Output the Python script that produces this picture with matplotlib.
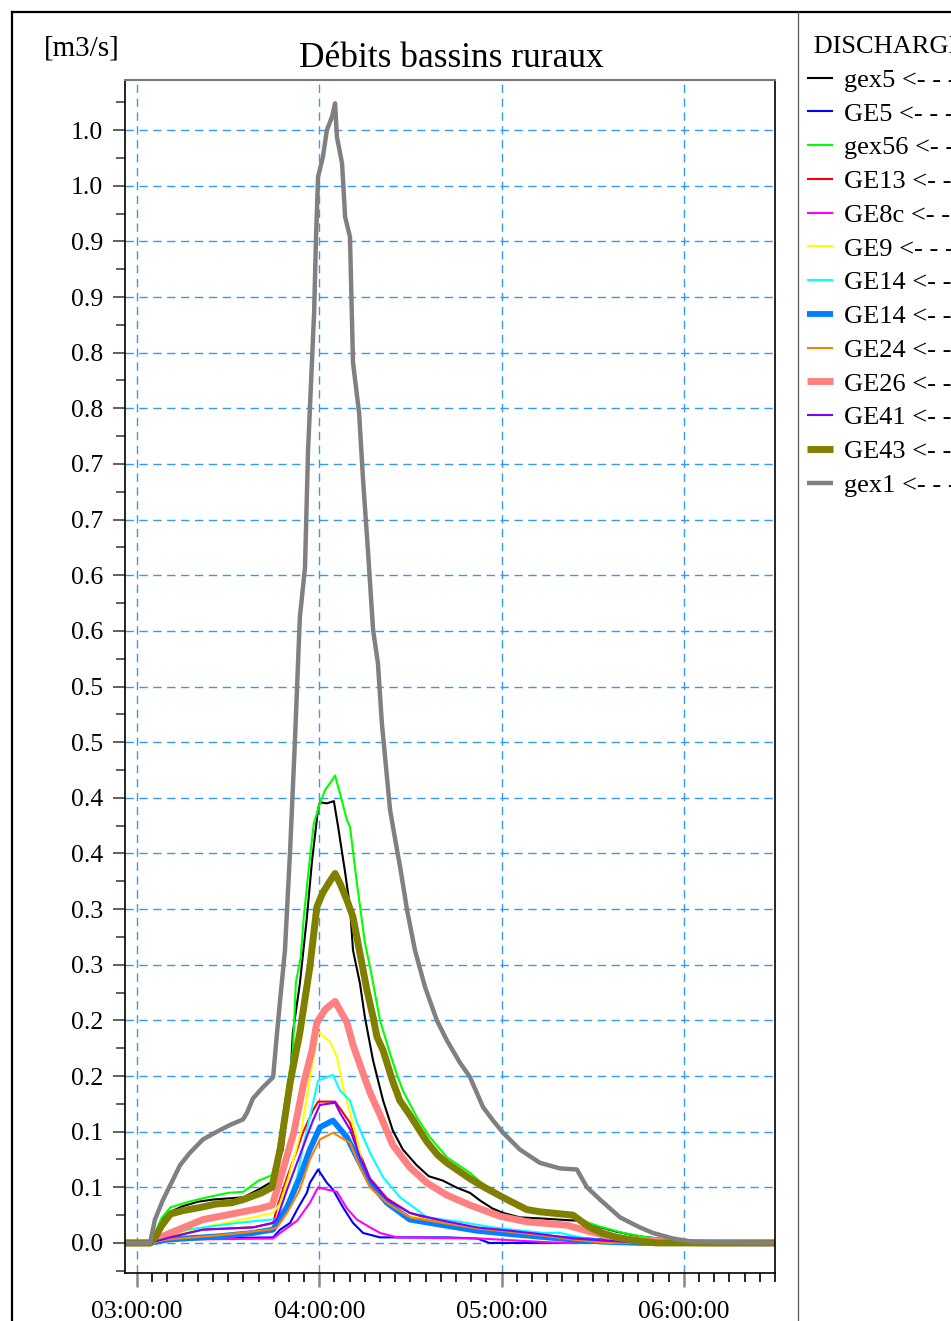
import datetime as dt
import matplotlib
matplotlib.use("Agg")
import matplotlib.pyplot as plt
import matplotlib.dates as mdates
from matplotlib.lines import Line2D

plt.rcParams["font.family"] = ["Liberation Serif", "DejaVu Serif"]

# temps en minutes apres 03:00, debits en m3/s
t_gex5 = [-4, 4.3, 5.5, 8, 11, 15, 20, 25, 30, 35, 40, 44.4, 48, 50.4, 51.3, 53.6, 55.9, 57.6, 59.6, 60.2,
          62.5, 64.8, 66.2, 68.5, 70.1, 71.1, 73.4, 75, 77.7, 81, 84.2, 87.5, 92, 96, 100.7, 105, 109.6, 113,
          117, 120.5, 126, 133, 144.8, 150, 158, 165, 175, 185, 210]
q_gex5 = [0, 0, 0.005, 0.02, 0.028, 0.033, 0.037, 0.039, 0.040, 0.041, 0.048, 0.055, 0.084, 0.144, 0.189,
          0.233, 0.292, 0.343, 0.390, 0.396, 0.395, 0.397, 0.374, 0.333, 0.302, 0.263, 0.233, 0.203, 0.164,
          0.128, 0.101, 0.084, 0.070, 0.060, 0.056, 0.050, 0.045, 0.038, 0.031, 0.027, 0.023, 0.022, 0.020,
          0.016, 0.010, 0.006, 0.003, 0.001, 0]

t_ge5 = [-4, 4.3, 6.6, 14.2, 44.8, 47.1, 50.4, 52.7, 55.9, 56.9, 59.6, 62.5, 64.5, 67.8, 71.1, 74.4, 80, 102,
         112, 116, 210]
q_ge5 = [0, 0, 0.003, 0.004, 0.005, 0.012, 0.018, 0.030, 0.045, 0.054, 0.066, 0.054, 0.048, 0.032, 0.018,
         0.009, 0.005, 0.005, 0.004, 0, 0]

t_gex56 = [-4, 4.3, 5.5, 8, 11, 17, 23, 30, 35, 40, 44.5, 46, 48, 49.7, 51.3, 52.3, 53.9, 54.9, 56.6, 58.2,
           60.2, 61.9, 63.5, 65.2, 66.8, 69.1, 70.1, 72.4, 75, 76.7, 80, 83.3, 85.6, 87.5, 92.1, 96.4, 102,
           109.6, 117.2, 122.8, 130.3, 142.5, 146.8, 152, 160, 168, 180, 190, 210]
q_gex56 = [0, 0, 0.006, 0.022, 0.032, 0.037, 0.041, 0.045, 0.046, 0.056, 0.061, 0.075, 0.113, 0.144, 0.173,
           0.234, 0.257, 0.293, 0.338, 0.377, 0.395, 0.407, 0.413, 0.420, 0.404, 0.380, 0.374, 0.323, 0.270,
           0.248, 0.200, 0.170, 0.151, 0.137, 0.113, 0.095, 0.077, 0.063, 0.045, 0.036, 0.030, 0.027, 0.020,
           0.015, 0.009, 0.005, 0.002, 0.001, 0]

t_ge13 = [-4, 4.3, 7, 21.7, 38.2, 44.8, 46.1, 49.4, 52.7, 54.6, 57.9, 59.6, 65.2, 67.8, 70.1, 73.4, 76.7,
          82.3, 89.8, 100.7, 111.9, 122.8, 139.2, 155.7, 166.5, 210]
q_ge13 = [0, 0, 0.004, 0.012, 0.014, 0.018, 0.032, 0.059, 0.084, 0.099, 0.119, 0.127, 0.127, 0.117, 0.108,
          0.080, 0.058, 0.040, 0.027, 0.018, 0.012, 0.009, 0.005, 0.003, 0, 0]

t_ge8c = [-4, 4.3, 14.2, 44.8, 47.1, 52.7, 56.9, 59.6, 62.5, 65.8, 69.1, 72.4, 76.7, 80, 85.6, 112.9, 132.6,
          140, 210]
q_ge8c = [0, 0, 0.003, 0.004, 0.009, 0.020, 0.036, 0.050, 0.048, 0.046, 0.031, 0.021, 0.014, 0.009, 0.005,
          0.004, 0.001, 0, 0]

t_ge9 = [-4, 4.3, 8, 21.7, 38.2, 44.8, 47, 50, 54, 57, 59.6, 61.2, 63.5, 65.8, 67.8, 70.1, 72.4, 74.4, 77.7,
         83.3, 89.8, 100.7, 111.9, 122.8, 139.2, 155.7, 166.5, 210]
q_ge9 = [0, 0, 0.005, 0.014, 0.023, 0.027, 0.035, 0.06, 0.10, 0.15, 0.19, 0.186, 0.181, 0.167, 0.140, 0.117,
         0.093, 0.068, 0.048, 0.032, 0.024, 0.018, 0.013, 0.009, 0.005, 0.002, 0, 0]

t_ge14a = [-4, 4.3, 7, 16.5, 33, 44, 46.1, 49.4, 52.7, 54.6, 56.9, 59.6, 62.5, 64.5, 66.8, 70.1, 72.4, 76.7,
           81, 86.6, 92.1, 95.4, 106.3, 117.2, 133.6, 139.2, 145.8, 155, 165, 210]
q_ge14a = [0, 0, 0.004, 0.012, 0.018, 0.021, 0.021, 0.036, 0.059, 0.086, 0.113, 0.146, 0.149, 0.151, 0.137,
           0.128, 0.108, 0.081, 0.059, 0.041, 0.030, 0.023, 0.019, 0.014, 0.009, 0.009, 0.005, 0.002, 0, 0]

t_ge14b = [-4, 4.3, 10, 27, 38.2, 44.8, 46.1, 49.4, 53.6, 56.9, 60.2, 64.5, 69.1, 72.4, 76.7, 82.3, 89.8,
           100.7, 111.9, 122.8, 139.2, 154.7, 166.5, 210]
q_ge14b = [0, 0, 0.003, 0.006, 0.009, 0.012, 0.018, 0.032, 0.059, 0.084, 0.104, 0.110, 0.095, 0.077, 0.054,
           0.036, 0.021, 0.016, 0.011, 0.008, 0.004, 0.001, 0, 0]

t_ge24 = [-4, 4.3, 10, 27.3, 43.8, 46.1, 49.4, 53.6, 56.9, 60.2, 64.5, 70.1, 73.4, 76.7, 82.3, 89.8, 100.7,
          111.9, 122.8, 132.6, 143.5, 154.7, 210]
q_ge24 = [0, 0, 0.003, 0.007, 0.012, 0.014, 0.027, 0.048, 0.075, 0.093, 0.099, 0.090, 0.068, 0.050, 0.036,
          0.023, 0.018, 0.013, 0.010, 0.007, 0.003, 0, 0]

t_ge26 = [-4, 4.3, 6, 11, 21.7, 33, 40.5, 44.5, 47.1, 51.6, 54.9, 57.6, 59.2, 62, 65.2, 69.1, 71.1, 73.4,
          76.7, 80, 84.2, 89.8, 95.4, 102, 109.6, 119.5, 128.3, 141.5, 148, 155, 162, 175, 187, 210]
q_ge26 = [0, 0, 0.003, 0.009, 0.021, 0.027, 0.031, 0.034, 0.057, 0.099, 0.144, 0.173, 0.198, 0.210, 0.217,
          0.198, 0.178, 0.160, 0.135, 0.115, 0.088, 0.068, 0.054, 0.043, 0.034, 0.024, 0.019, 0.016, 0.011,
          0.006, 0.003, 0.001, 0, 0]

t_ge41 = [-4, 4.3, 10.9, 21.7, 38.2, 44.8, 46.1, 49.4, 54.6, 57.9, 60.2, 65.2, 66.8, 70.1, 73.4, 76.7, 82.3,
          89.8, 100.7, 111.9, 122.8, 132.6, 143.5, 155, 166.5, 210]
q_ge41 = [0, 0, 0.005, 0.012, 0.014, 0.018, 0.022, 0.048, 0.086, 0.110, 0.124, 0.126, 0.117, 0.102, 0.077,
          0.057, 0.039, 0.027, 0.020, 0.014, 0.011, 0.008, 0.004, 0.002, 0, 0]

t_ge43 = [-4, 4.3, 6, 8, 11, 15, 21, 26, 31, 35, 41, 44.4, 47.1, 50.4, 53.6, 56.9, 59.2, 61.2, 63.5, 65.2,
          67, 69.1, 71.1, 73.4, 75.7, 77.7, 79, 81, 84.2, 86.5, 89.8, 95.4, 99, 102, 110, 115, 121.8, 128.3,
          132.6, 143.5, 149, 153, 158, 164, 171, 210]
q_ge43 = [0, 0, 0.005, 0.015, 0.026, 0.029, 0.032, 0.035, 0.036, 0.039, 0.045, 0.050, 0.084, 0.144, 0.189,
          0.248, 0.302, 0.315, 0.325, 0.332, 0.322, 0.308, 0.293, 0.260, 0.227, 0.203, 0.185, 0.173, 0.145,
          0.128, 0.115, 0.091, 0.079, 0.072, 0.057, 0.049, 0.039, 0.030, 0.028, 0.025, 0.014, 0.009, 0.005,
          0.002, 0, 0]

t_gex1 = [-4, 4.3, 5.9, 8.6, 11.5, 14.2, 17.4, 21.7, 26.3, 30.6, 34.9, 36.2, 38.2, 41.5, 44.8, 46.1, 47.1,
          48.7, 50.4, 52.0, 53.6, 55.3, 56.3, 58.3, 58.9, 59.6, 61.2, 62.5, 64.2, 65.2, 65.8, 67.5, 68.5,
          70.1, 71.1, 73.1, 74.4, 76.0, 77.7, 79.3, 80.6, 83.3, 85.6, 86.6, 88.9, 91.5, 94.8, 98.7, 102.0,
          106.3, 109.6, 113.9, 117.2, 120.5, 126.0, 132.6, 139.2, 144.8, 148.1, 152.4, 159.0, 165.5, 169.8,
          176.4, 183, 210]
q_gex1 = [0, 0, 0.021, 0.039, 0.055, 0.070, 0.081, 0.093, 0.100, 0.106, 0.111, 0.117, 0.130, 0.140, 0.149,
          0.189, 0.218, 0.263, 0.353, 0.452, 0.562, 0.607, 0.712, 0.836, 0.901, 0.958, 0.976, 1.000, 1.012,
          1.024, 0.994, 0.970, 0.922, 0.904, 0.791, 0.746, 0.686, 0.623, 0.551, 0.521, 0.467, 0.389, 0.353,
          0.338, 0.299, 0.263, 0.230, 0.200, 0.182, 0.162, 0.149, 0.122, 0.110, 0.099, 0.084, 0.072, 0.067,
          0.066, 0.050, 0.039, 0.023, 0.014, 0.009, 0.004, 0.001, 0]

noms = ["gex5", "GE5", "gex56", "GE13", "GE8c", "GE9", "GE14", "GE14", "GE24", "GE26", "GE41", "GE43", "gex1"]
temps = [t_gex5, t_ge5, t_gex56, t_ge13, t_ge8c, t_ge9, t_ge14a, t_ge14b, t_ge24, t_ge26, t_ge41, t_ge43, t_gex1]
debits = [q_gex5, q_ge5, q_gex56, q_ge13, q_ge8c, q_ge9, q_ge14a, q_ge14b, q_ge24, q_ge26, q_ge41, q_ge43, q_gex1]
couleurs = ["#000000", "#0000ff", "#00ff00", "#ff0000", "#ff00ff", "#ffff00", "#00ffff", "#0080ff",
            "#ff8000", "#ff8080", "#8000ff", "#808000", "#808080"]
epaisseurs = [1.5, 1.5, 1.5, 1.5, 1.5, 1.5, 1.5, 4.2, 1.5, 5.0, 1.5, 5.0, 3.2]

y_ticks = [i * 0.05 for i in range(21)]
y_labels = ["0.0", "0.1", "0.1", "0.2", "0.2", "0.3", "0.3", "0.4", "0.4", "0.5", "0.5",
            "0.6", "0.6", "0.7", "0.7", "0.8", "0.8", "0.9", "0.9", "1.0", "1.0"]

base = dt.datetime(2000, 1, 1, 3, 0, 0)


def to_dates(minutes):
    return [base + dt.timedelta(minutes=m) for m in minutes]


W, H = 951, 1321
fig = plt.figure(figsize=(W / 100, H / 100), dpi=100)
ax = fig.add_axes([125 / W, 48 / H, 650 / W, 1193 / H])

lignes = []
for t, q, nom, c, lw in zip(temps, debits, noms, couleurs, epaisseurs):
    l, = ax.plot(to_dates(t), q, color=c, lw=lw, label=nom + " <- - - - - -",
                 solid_joinstyle="round", solid_capstyle="butt")
    lignes.append(l)

ax.set_xlim(base - dt.timedelta(minutes=3.95), base + dt.timedelta(minutes=210))
ax.set_ylim(-0.027, 1.045)

ax.xaxis.set_major_locator(mdates.HourLocator())
ax.xaxis.set_minor_locator(mdates.MinuteLocator(byminute=range(0, 60, 5)))
ax.xaxis.set_major_formatter(mdates.DateFormatter("%H:%M:%S"))
ax.set_yticks(y_ticks)
ax.set_yticklabels(y_labels)
ax.set_yticks([v + 0.025 for v in y_ticks[:-1]] + [-0.025, 1.025], minor=True)

ax.tick_params(axis="both", which="major", labelsize=18.5, direction="out")
ax.tick_params(axis="y", which="major", length=9, width=1.2, color="#444444", pad=7)
ax.tick_params(axis="y", which="minor", length=6.5, width=1.2, color="#444444")
ax.tick_params(axis="x", which="major", length=10, width=1.8, color="#888888", pad=10)
ax.tick_params(axis="x", which="minor", length=6.5, width=1.2, color="#000000")

ax.grid(True, which="major", color="#3399ff", linestyle=(0, (6, 4)), linewidth=1.0)
ax.set_axisbelow(True)
for s in ["left", "bottom", "right"]:
    ax.spines[s].set_color("black")
    ax.spines[s].set_linewidth(1.2)
ax.spines["top"].set_color("#777777")
ax.spines["top"].set_linewidth(1.5)

fig.text(451 / W, 1 - 67 / H, "Débits bassins ruraux", ha="center", va="baseline", fontsize=25.5)
fig.text(44 / W, 1 - 56 / H, "[m3/s]", ha="left", va="baseline", fontsize=21)

leg = fig.legend(handles=lignes, loc="upper left", bbox_to_anchor=(807 / W, 1 - 36 / H),
                 frameon=False, fontsize=19, title=" DISCHARGE", title_fontsize=19,
                 alignment="left", handlelength=1.0, handletextpad=0.4, labelspacing=0.39,
                 borderpad=0, borderaxespad=0)

# cadre de la figure et separation de la legende
fig.add_artist(Line2D([12 / W, 1.0], [1 - 12 / H, 1 - 12 / H], color="black", lw=1.6))
fig.add_artist(Line2D([12 / W, 12 / W], [0, 1 - 12 / H], color="black", lw=1.6))
fig.add_artist(Line2D([798 / W, 798 / W], [0, 1 - 12 / H], color="#555555", lw=0.9))

fig.savefig("out.png", dpi=100)
